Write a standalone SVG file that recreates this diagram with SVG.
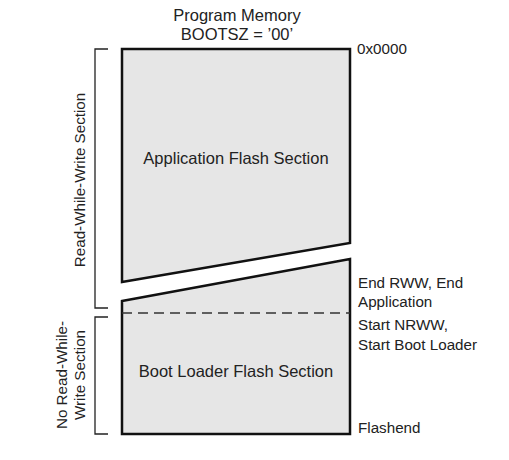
<svg xmlns="http://www.w3.org/2000/svg" width="509" height="460" viewBox="0 0 509 460">
<style>
text{font-family:"Liberation Sans",Arial,sans-serif;font-size:15.2px;fill:#222}
.mid{text-anchor:middle}
.big{font-size:16.5px}
.sec{fill:#e6e6e6;stroke:#111;stroke-width:2.5;stroke-linejoin:miter}
.br{fill:none;stroke:#222;stroke-width:1.3}
</style>
<rect width="509" height="460" fill="#fff"/>
<g id="title">
<text class="mid big" x="237" y="21">Program Memory</text>
<text class="mid big" x="237" y="40">BOOTSZ = ’00’</text>
</g>
<g id="app">
<polygon class="sec" points="122,49 350,49 350,243 122,282"/>
<text class="mid big" x="236" y="164">Application Flash Section</text>
</g>
<g id="boot">
<polygon class="sec" points="122,301 350,259 350,434 122,434"/>
<text class="mid big" x="236" y="377">Boot Loader Flash Section</text>
</g>
<g id="connectors">
<line x1="122" y1="313" x2="350" y2="313" stroke="#333" stroke-width="1.5" stroke-dasharray="10,6"/>
<polyline class="br" points="108,49 95,49 95,308 108,308"/>
<polyline class="br" points="108,317 95,317 95,434 108,434"/>
</g>
<g id="rww">
<text class="mid" transform="translate(85,180) rotate(-90)">Read-While-Write Section</text>
</g>
<g id="nrww">
<text class="mid" transform="translate(67,375) rotate(-90)">No Read-While-</text>
<text class="mid" transform="translate(85,375) rotate(-90)">Write Section</text>
</g>
<g id="addr">
<text x="357" y="54">0x0000</text>
<text x="358" y="288">End RWW, End</text>
<text x="358" y="307">Application</text>
<text x="358" y="330">Start NRWW,</text>
<text x="358" y="350">Start Boot Loader</text>
<text x="358" y="433">Flashend</text>
</g>
</svg>
